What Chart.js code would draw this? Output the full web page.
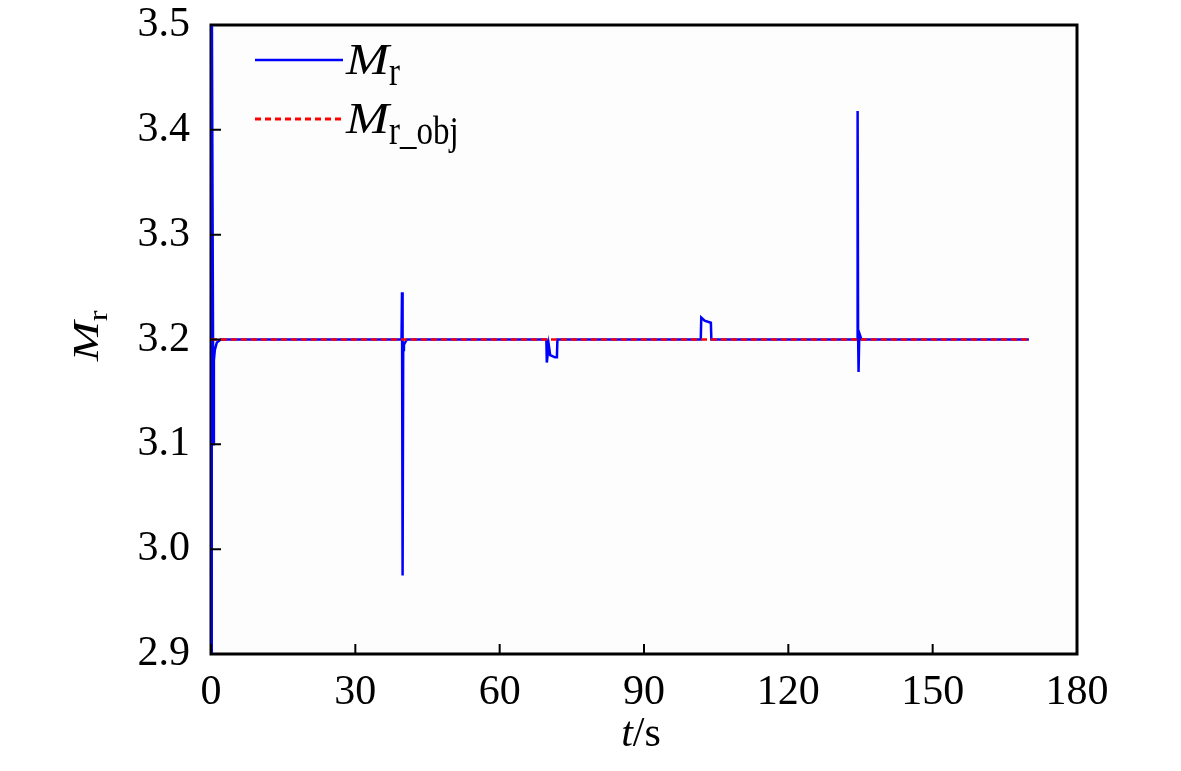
<!DOCTYPE html>
<html><head><meta charset="utf-8">
<script src="https://cdn.jsdelivr.net/npm/chart.js@4.4.1/dist/chart.umd.min.js"></script>
<style>html,body{margin:0;padding:0;background:#fff}#wrap{width:1181px;height:771px;position:relative}</style>
</head><body><div id="wrap"><canvas id="c"></canvas></div>
<script>
// ---- data ----
const tMr = [0, 0.15, 0.5, 0.6, 0.8, 1.2, 2.0,
  39.6, 39.7, 39.8, 39.85, 39.95, 40.1, 40.7,
  69.7, 69.8, 70.2, 70.5, 71.5, 71.9, 72.0,
  101.8, 101.9, 102.6, 103.9, 104.0,
  134.3, 134.4, 134.5, 134.6, 134.75, 135.2, 170];
const mrValues = [2.85, 3.55, 3.1, 3.18, 3.19, 3.197, 3.2,
  3.2, 3.245, 3.195, 2.975, 3.19, 3.195, 3.2,
  3.2, 3.178, 3.195, 3.185, 3.183, 3.183, 3.2,
  3.2, 3.221, 3.218, 3.216, 3.2,
  3.2, 3.418, 3.205, 3.169, 3.206, 3.2, 3.2];
const tObj = [0, 170];
const mrObjValues = [3.2, 3.2];
const xTickValues = [0, 30, 60, 90, 120, 150, 180];
const yTickValues = [2.9, 3.0, 3.1, 3.2, 3.3, 3.4, 3.5];
const legendSubs = ['r', 'r_obj'];
const legendMain = 'M';
const xTitleParts = ['t', '/s'];
const yTitleParts = ['M', 'r'];

const SERIF = '"Liberation Serif","Times New Roman",serif';

function pts(xs, ys){ return xs.map((x,i)=>({x:x, y:ys[i]})); }

// parts: [{text, font, dy, sx, sy}] ; x is left start, y baseline
function drawParts(ctx, x, y, parts){
  let cx = x;
  for (const p of parts){
    const sx = p.sx || 1, sy = p.sy || 1;
    ctx.font = p.font;
    ctx.save();
    ctx.translate(cx, y + (p.dy||0));
    ctx.scale(sx, sy);
    ctx.fillText(p.text, 0, 0);
    ctx.restore();
    cx += ctx.measureText(p.text).width * sx;
  }
  return cx - x;
}
function partsWidth(ctx, parts){
  let w = 0;
  for (const p of parts){ ctx.font = p.font; w += ctx.measureText(p.text).width * (p.sx||1); }
  return w;
}

const framePlugin = {
  id: 'frame',
  beforeDatasetsDraw(chart){
    const {ctx, chartArea:a} = chart;
    ctx.save();
    ctx.fillStyle = '#fdfdfd';
    ctx.fillRect(a.left, a.top, a.right-a.left, a.bottom-a.top);
    ctx.strokeStyle = '#000';
    ctx.lineWidth = 3;
    ctx.strokeRect(a.left, a.top, a.right-a.left, a.bottom-a.top);
    ctx.restore();
  },
  afterDatasetsDraw(chart){
    const {ctx, chartArea:a, scales} = chart;
    ctx.save();
    ctx.strokeStyle = '#000';
    // inward ticks
    ctx.lineWidth = 2;
    ctx.beginPath();
    xTickValues.forEach(v=>{
      const px = scales.x.getPixelForValue(v);
      ctx.moveTo(px, a.bottom); ctx.lineTo(px, a.bottom-10);
    });
    yTickValues.forEach(v=>{
      const py = scales.y.getPixelForValue(v);
      ctx.moveTo(a.left, py); ctx.lineTo(a.left+10, py);
    });
    ctx.stroke();

    // legend
    ctx.fillStyle = '#000';
    ctx.textBaseline = 'alphabetic';
    ctx.textAlign = 'left';
    const ds = chart.data.datasets;
    const rows = [
      {y: 60, color: ds[1].borderColor, dash: [], w: 2.5, sub: legendSubs[0]},
      {y: 119, color: ds[0].borderColor, dash: [6,4], w: 3, sub: legendSubs[1]}
    ];
    rows.forEach(r=>{
      ctx.strokeStyle = r.color; ctx.lineWidth = r.w; ctx.setLineDash(r.dash);
      ctx.beginPath(); ctx.moveTo(255, r.y); ctx.lineTo(343, r.y); ctx.stroke();
      ctx.setLineDash([]);
      drawParts(ctx, 346, r.y + 14, [
        {text: legendMain, font: 'italic 47px ' + SERIF, sx: 1.1, sy: 0.95},
        {text: r.sub, font: '33px ' + SERIF, dy: 11, sx: 1.0, sy: 1.2}
      ]);
    });

    // x title
    const xParts = [
      {text: xTitleParts[0], font: 'italic 42px ' + SERIF},
      {text: xTitleParts[1], font: '42px ' + SERIF}
    ];
    const xw = partsWidth(ctx, xParts);
    drawParts(ctx, (a.left+a.right)/2 - xw/2 - 3, 746, xParts);

    // y title (rotated)
    const yParts = [
      {text: yTitleParts[0], font: 'italic 40px ' + SERIF, sx: 1.2, sy: 0.9},
      {text: yTitleParts[1], font: '28px ' + SERIF, dy: 9, sx: 1.15, sy: 0.95}
    ];
    const yw = partsWidth(ctx, yParts);
    ctx.translate(98, 336);
    ctx.rotate(-Math.PI/2);
    drawParts(ctx, -yw/2, 0, yParts);
    ctx.restore();
  }
};

new Chart(document.getElementById('c'), {
  type: 'line',
  data: {
    datasets: [
      { label: 'M_r_obj', data: pts(tObj, mrObjValues), borderColor: '#ff0000', borderWidth: 2.5,
        borderDash: [6,4], pointRadius: 0, tension: 0, order: 1 },
      { label: 'M_r', data: pts(tMr, mrValues), borderColor: '#0000ff', borderWidth: 2.5,
        pointRadius: 0, tension: 0, order: 2 }
    ]
  },
  options: {
    responsive: true, maintainAspectRatio: false, animation: false,
    layout: { padding: { top: 25, right: 104, left: 0, bottom: 0 } },
    plugins: { legend: { display: false }, tooltip: { enabled: false } },
    scales: {
      x: {
        type: 'linear', min: 0, max: 180,
        afterBuildTicks(s){ s.ticks = xTickValues.map(v=>({value:v})); },
        afterFit(s){ s.height = 117; s.paddingLeft = 0; s.paddingRight = 0; },
        grid: { display: false, drawTicks: false },
        border: { display: false },
        ticks: { color: '#000', padding: 14, maxRotation: 0, autoSkip: false,
          font: { family: SERIF, size: 42 }, callback: v => String(v) }
      },
      y: {
        type: 'linear', min: 2.9, max: 3.5,
        afterBuildTicks(s){ s.ticks = yTickValues.map(v=>({value:v})); },
        afterFit(s){ s.width = 211; s.paddingTop = 0; s.paddingBottom = 0; },
        grid: { display: false, drawTicks: false },
        border: { display: false },
        ticks: { color: '#000', padding: 21, autoSkip: false,
          font: { family: SERIF, size: 42 }, callback: v => Number(v).toFixed(1) }
      }
    }
  },
  plugins: [framePlugin]
});
</script>
</body></html>
